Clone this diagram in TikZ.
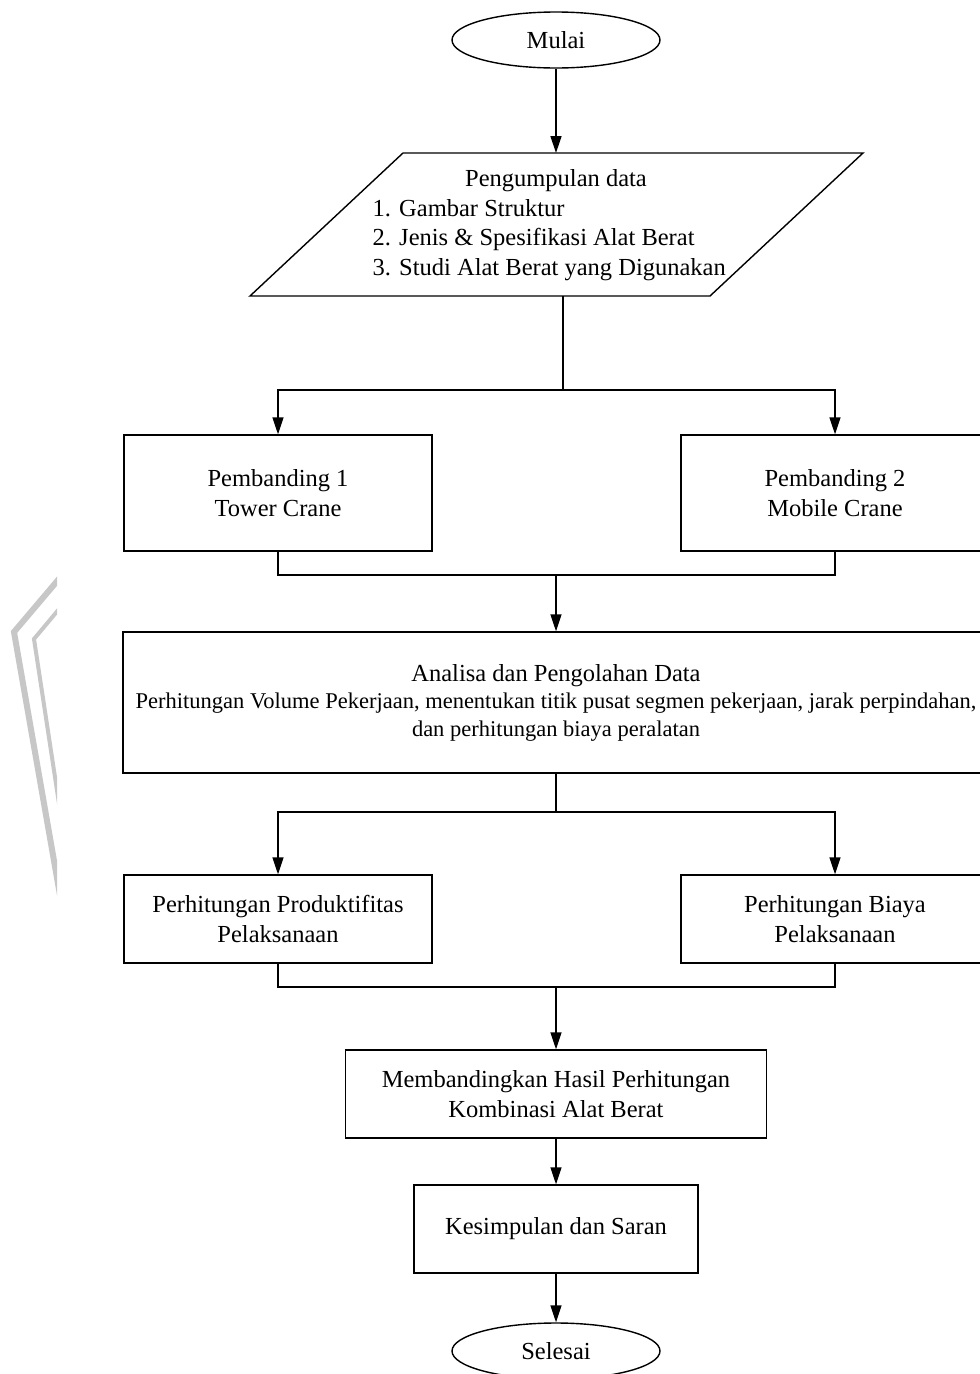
\documentclass[tikz,border=0pt]{standalone}
\usepackage{fontspec}
\setmainfont{Liberation Serif}
\usetikzlibrary{arrows.meta,shapes.geometric}
\begin{document}
\begin{tikzpicture}[x=1pt,y=-1pt,line width=1.4pt,
  >={Triangle[length=17pt,width=11pt]},
  every node/.style={font=\fontsize{24.5}{29.5}\selectfont},
  box/.style={draw,rectangle,align=center,inner sep=0pt},
  term/.style={draw,ellipse,inner sep=0pt,minimum width=208pt,minimum height=56pt},
  wmark/.style={color=black!22,line join=miter}]
\clip (0,0) rectangle (980,1374);
% watermark
\begin{scope}
\clip (0,560) rectangle (57,900);
\draw[wmark,line width=6pt] (75,560) -- (14,632) -- (60,895);
\draw[wmark,line width=4pt] (75,590) -- (34,639) -- (60,810);
\end{scope}
% nodes
\node[term] (mulai) at (556,40) {Mulai};
\draw (403,153) -- (863,153) -- (710,296) -- (250,296) -- cycle;
\coordinate (pgtop) at (556,153);
\coordinate (pgbot) at (563,296);
\node (pgtitle) at (556,181) {Pengumpulan data};
\node[align=left,anchor=west,inner sep=0pt] (pglist) at (372,240)
  {1. Gambar Struktur\\2. Jenis \& Spesifikasi Alat Berat\\3. Studi Alat Berat yang Digunakan};
\node[box,minimum width=308pt,minimum height=116pt] (p1) at (278,493) {Pembanding 1\\Tower Crane};
\node[box,minimum width=308pt,minimum height=116pt] (p2) at (835,493) {Pembanding 2\\Mobile Crane};
\node[box,minimum width=866pt,minimum height=141pt] (ana) at (556,702.5)
  {Analisa dan Pengolahan Data\\[-2pt]{\fontsize{22.5}{27}\selectfont Perhitungan Volume Pekerjaan, menentukan titik pusat segmen pekerjaan, jarak perpindahan,}\\[-2pt]{\fontsize{22.5}{27}\selectfont dan perhitungan biaya peralatan}};
\node[box,minimum width=308pt,minimum height=88pt] (prod) at (278,919) {Perhitungan Produktifitas\\Pelaksanaan};
\node[box,minimum width=308pt,minimum height=88pt] (biaya) at (835,919) {Perhitungan Biaya\\Pelaksanaan};
\node[box,minimum width=421pt,minimum height=88pt] (memb) at (556,1094) {Membandingkan Hasil Perhitungan\\Kombinasi Alat Berat};
\node[box,minimum width=284pt,minimum height=88pt] (kes) at (556,1229) {Kesimpulan dan Saran};
\node[term] (sel) at (556,1351) {Selesai};
% connectors
\coordinate (j1) at (563,390);
\coordinate (j2) at (556,575);
\coordinate (j3) at (556,812);
\coordinate (j4) at (556,987);
\draw[->] (mulai) -- (pgtop);
\draw (pgbot) -- (j1);
\draw[->] (j1) -| (p1.north);
\draw[->] (j1) -| (p2.north);
\draw (p1.south) |- (j2);
\draw (p2.south) |- (j2);
\draw[->] (j2) -- (ana.north);
\draw (ana.south) -- (j3);
\draw[->] (j3) -| (prod.north);
\draw[->] (j3) -| (biaya.north);
\draw (prod.south) |- (j4);
\draw (biaya.south) |- (j4);
\draw[->] (j4) -- (memb.north);
\draw[->] (memb) -- (kes);
\draw[->] (kes) -- (sel);
\end{tikzpicture}
\end{document}
